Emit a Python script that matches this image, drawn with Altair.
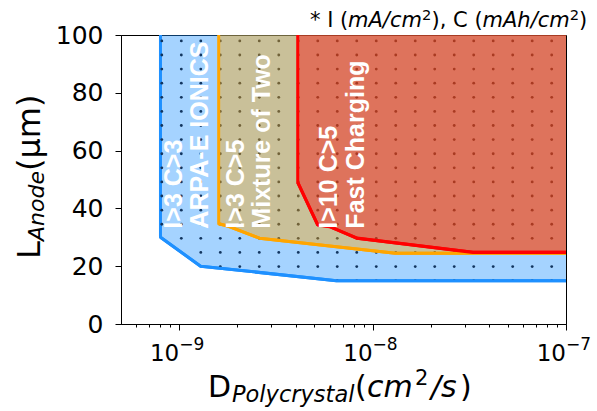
import altair as alt
import numpy as np
import pandas as pd

# ---------------- data ----------------
x_domain = [5e-10, 1e-7]
y_domain = [0, 100]

blue_x = [8.0e-10, 8.0e-10, 1.29e-9, 6.5e-9, 1.0e-7]
blue_y = [100, 30, 20, 15, 15]
orange_x = [1.6e-9, 1.6e-9, 1.8e-9, 2.6e-9, 1.31e-8, 1.0e-7]
orange_y = [100, 34.7, 33.8, 29.7, 24.5, 24.5]
red_x = [4.1e-9, 4.1e-9, 5.2e-9, 6.0e-9, 8.3e-9, 3.3e-8, 1.0e-7]
red_y = [100, 49, 34.3, 33.7, 29.7, 24.8, 24.8]

label_line1 = ["I>3 C>3", "I>3 C>5", "I>10 C>5"]
label_line2 = ["ARPA-E IONICS", "Mixture of Two", "Fast Charging"]
label1_x = [9.4e-10, 1.97e-9, 5.95e-9]
label2_x = [1.285e-9, 2.68e-9, 8.18e-9]
label_y = [33, 33, 33]

y_ticks = [0, 20, 40, 60, 80, 100]
x_major = [1e-9, 1e-8, 1e-7]
x_major_base = ["10", "10", "10"]
x_major_exp = ["\u22129", "\u22128", "\u22127"]
x_minor = [6e-10, 7e-10, 8e-10, 9e-10,
           2e-9, 3e-9, 4e-9, 5e-9, 6e-9, 7e-9, 8e-9, 9e-9,
           2e-8, 3e-8, 4e-8, 5e-8, 6e-8, 7e-8, 8e-8, 9e-8]

# hatch texture ('.' hatch): regular dot lattice, kept inside the blue region
hatch_cols = 10 ** (-9.09 + 0.1008 * np.arange(21))
hatch_rows = 15 + 4.88 * np.arange(18)

# ---------------- styling ----------------
W, H = 445, 289
BLUE, ORANGE, RED = "#1e90ff", "#ffa500", "#ff0000"
DOT = "#12355f"

xscale = alt.Scale(type="log", domain=x_domain, nice=False)
yscale = alt.Scale(domain=y_domain, nice=False, zero=False)
xaxis = alt.Axis(
    values=sorted(x_major + x_minor), labels=False, title=None, grid=False,
    tickSize={"condition": {"test": "abs(log(datum.value)/LN10 - round(log(datum.value)/LN10)) < 0.01", "value": 6}, "value": 3},
    tickColor="black", domainColor="black",
)
yaxis = alt.Axis(
    values=y_ticks, title=None, grid=False, tickSize=6, tickColor="black", domainColor="black",
    labelColor="black", labelFont="DejaVu Sans", labelFontSize=25, labelPadding=12,
    labelFlush=False,
)


def X(field="x"):
    return alt.X(f"{field}:Q", scale=xscale, axis=xaxis)


def Y(field="y"):
    return alt.Y(f"{field}:Q", scale=yscale, axis=yaxis)


def bdf(xs, ys):
    return pd.DataFrame({"x": xs, "y": ys})


def region_df(xs, ys):
    # region polygon: boundary (without its top point), carried a little past the
    # right edge and top of the plot so that only the left and lower edges show
    # once the mark is clipped to the plot area
    xx = list(xs[1:]) + [x_domain[1] * 1.06]
    yy = list(ys[1:]) + [ys[-1]]
    return pd.DataFrame({"x": xx, "y": yy, "top": y_domain[1] * 1.05})


blue_df, orange_df, red_df = bdf(blue_x, blue_y), bdf(orange_x, orange_y), bdf(red_x, red_y)

# hatch dots inside the blue region
hx, hy = np.meshgrid(hatch_cols, hatch_rows)
hx, hy = hx.ravel(), hy.ravel()
edge = np.interp(np.log10(hx), np.log10(blue_x[1:]), blue_y[1:])
inside = (hx >= blue_x[0] * 0.999) & (hy >= edge - 0.01)
hatch_df = pd.DataFrame({"x": hx[inside], "y": hy[inside]})

layers = []


def region(xs, ys, col):
    return alt.Chart(region_df(xs, ys)).mark_area(
        fill=col, fillOpacity=0.4, stroke=col, strokeWidth=3, strokeOpacity=1,
        strokeJoin="round", clip=True).encode(x=X(), y=Y(), y2="top:Q")


layers.append(region(blue_x, blue_y, BLUE))
layers.append(alt.Chart(hatch_df).mark_circle(color=DOT, size=8, opacity=1).encode(x=X(), y=Y()))
layers.append(region(orange_x, orange_y, ORANGE))
layers.append(region(red_x, red_y, RED))

# lower boundary lines on top
for df, col, sw in [(blue_df, BLUE, 3), (orange_df, ORANGE, 3), (red_df, RED, 3.2)]:
    layers.append(alt.Chart(df.iloc[1:]).mark_line(color=col, strokeWidth=sw, strokeJoin="round").encode(
        x=X(), y=Y()))

# region labels
lab_df = pd.DataFrame({"x": label1_x + label2_x, "y": label_y + label_y, "t": label_line1 + label_line2})
layers.append(alt.Chart(lab_df).mark_text(
    angle=270, align="left", baseline="middle", font="Liberation Sans", fontWeight="bold",
    fontSize=25, color="white").encode(x=X(), y=Y(), text="t:N"))

# x tick labels 10^-n (base + superscript exponent)
tick_df = pd.DataFrame({"x": x_major, "b": x_major_base, "e": x_major_exp})
layers.append(alt.Chart(tick_df).mark_text(
    align="right", baseline="alphabetic", font="DejaVu Sans", fontSize=23, color="black").encode(
    x=X(), y=alt.value(326), text="b:N"))
layers.append(alt.Chart(tick_df).mark_text(
    align="left", baseline="alphabetic", font="DejaVu Sans", fontSize=17, color="black").encode(
    x=X(), y=alt.value(315), text="e:N"))


# ---------------- rich-text titles (pieces) ----------------
def piece(text, px, py, size, italic=False, angle=0):
    kw = dict(align="left", baseline="alphabetic", font="DejaVu Sans", fontSize=size, color="black")
    if italic:
        kw["fontStyle"] = "italic"
    if angle:
        kw["angle"] = angle
    return alt.Chart(pd.DataFrame({"t": [text]})).mark_text(**kw).encode(
        x=alt.value(px), y=alt.value(py), text="t:N")


# x title: D_Polycrystal(cm^2/s)
layers += [
    piece("D", 87, 362, 30),
    piece("Polycrystal", 111, 367, 22.5, italic=True),
    piece("(", 234, 362, 30),
    piece("cm", 246, 362, 30, italic=True),
    piece("2", 294, 350, 21),
    piece("/s", 310, 362, 30, italic=True),
    piece(")", 339, 362, 30),
]
# y title: L_Anode(um)
layers += [
    piece("L", -81, 224, 32, angle=270),
    piece("Anode", -77, 206, 22, italic=True, angle=270),
    piece("(\u03bcm)", -81, 136, 32, angle=270),
]
# annotation: * I (mA/cm^2), C (mAh/cm^2)
layers += [
    piece("* I (", 189, -8, 21),
    piece("mA/cm", 227, -8, 21, italic=True),
    piece("2", 301, -15, 14.7),
    piece("), C (", 310.5, -8, 21),
    piece("mAh/cm", 361.5, -8, 21, italic=True),
    piece("2", 448.8, -15, 14.7),
    piece(")", 458.1, -8, 21),
]

chart = alt.layer(*layers).properties(
    width=W, height=H,
    autosize=alt.AutoSizeParams(type="none"),
    padding={"left": 121, "top": 35, "right": 31, "bottom": 87},
    background="white",
).configure_view(stroke="black", strokeWidth=1)

chart.save("out.html", embed_options={"renderer": "svg", "actions": False})
